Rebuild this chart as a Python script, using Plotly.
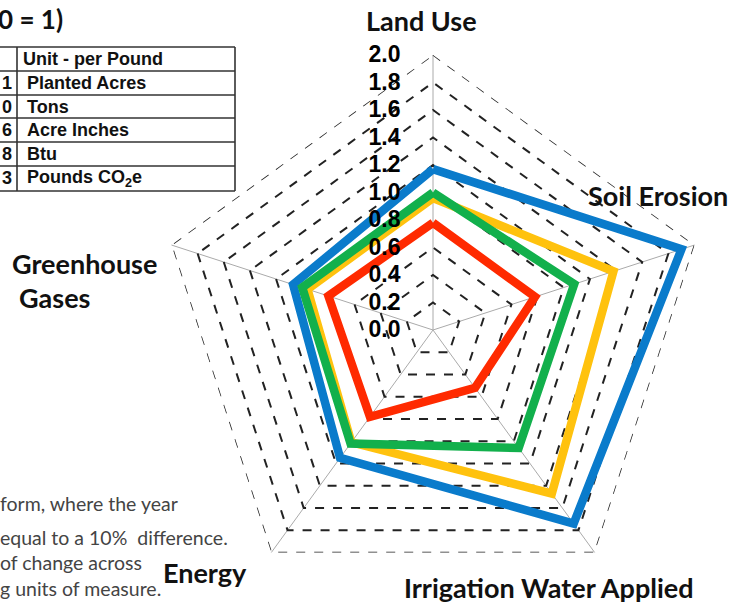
import plotly.graph_objects as go

W, H = 734, 605

categories = ["Land Use", "Soil Erosion", "Irrigation Water Applied", "Energy", "Greenhouse Gases"]
series_names = ["Series A", "Series B", "Series C", "Series D"]
blue_vals = [1.17, 1.90, 1.74, 1.15, 1.07]
yellow_vals = [0.96, 1.38, 1.47, 1.01, 0.96]
green_vals = [1.00, 1.08, 1.06, 1.02, 1.00]
red_vals = [0.78, 0.78, 0.52, 0.78, 0.80]
series_colors = ["#0A7BCB", "#FFC20E", "#12B04C", "#FF2A00"]

radial_ticks = [0.0, 0.2, 0.4, 0.6, 0.8, 1.0, 1.2, 1.4, 1.6, 1.8, 2.0]
RMAX = 2.0

table_left = ["", "1", "0", "6", "8", "3"]
table_right = ["Unit - per Pound", "Planted Acres", "Tons", "Acre Inches", "Btu", "Pounds CO<sub>2</sub>e"]

note_lines = ["form, where the year", "equal to a 10%  difference.", "of change across", "g units of measure."]


def px(x):
    return x / W


def py(y):
    return 1 - y / H


fig = go.Figure()

# outer dashed boundary (range max)
fig.add_trace(go.Scatterpolar(
    r=[RMAX] * (len(categories) + 1), theta=categories + categories[:1],
    mode="lines", line=dict(color="#222", width=1.5, dash="dash"),
    hoverinfo="skip", showlegend=False))

for name, vals, col in zip(series_names, [blue_vals, yellow_vals, green_vals, red_vals], series_colors):
    fig.add_trace(go.Scatterpolar(
        r=vals + vals[:1], theta=categories + categories[:1],
        mode="lines", line=dict(color=col, width=8.5), name=name, showlegend=False))

cx, cy, R = 433, 330, 275
fig.update_layout(
    width=W, height=H,
    margin=dict(l=0, r=0, t=0, b=0),
    paper_bgcolor="white", plot_bgcolor="white",
    polar=dict(
        domain=dict(x=[px(cx - R), px(cx + R)], y=[py(cy + R), py(cy - R)]),
        gridshape="linear",
        bgcolor="rgba(0,0,0,0)",
        radialaxis=dict(
            range=[0, RMAX], tickvals=radial_ticks,
            tickformat=".1f",
            angle=90, tickangle=90, side="counterclockwise",
            showline=False, ticks="outside", ticklen=24, tickcolor="rgba(0,0,0,0)",
            gridcolor="#222", griddash="dash", gridwidth=1.5,
            tickfont=dict(family="Liberation Sans", size=23, color="black", weight="bold"),
            layer="above traces",
        ),
        angularaxis=dict(
            categoryarray=categories, type="category",
            rotation=90, direction="clockwise",
            showticklabels=False, ticks="",
            showline=False,
            gridcolor="#aaaaaa", gridwidth=1.2,
        ),
    ),
    font=dict(family="Lato", color="black"),
)

# axis category labels
lab_font = dict(family="Lato", size=27, color="#111")
labels = [
    ("<b>Land Use</b>", 421, 20, "center"),
    ("<b>Soil Erosion</b>", 658, 195, "center"),
    ("<b>Greenhouse</b>", 10, 263, "left"),
    ("<b>Gases</b>", 17, 297, "left"),
    ("<b>Energy</b>", 205, 572, "center"),
    ("<b>Irrigation Water Applied</b>", 549, 587, "center"),
]
for t, x, y, anc in labels:
    fig.add_annotation(text=t, x=px(x), y=py(y), xref="paper", yref="paper",
                       xanchor=anc, yanchor="middle", showarrow=False, font=lab_font)

# title fragment
fig.add_annotation(text="<b>0 = 1)</b>", x=px(-4), y=py(19), xref="paper", yref="paper",
                   xanchor="left", yanchor="middle", showarrow=False,
                   font=dict(family="Lato", size=26, color="#111"))

# table
row_y = [47, 71, 95, 118, 142, 166, 191]
for y in row_y:
    fig.add_shape(type="line", x0=px(-5), x1=px(235), y0=py(y), y1=py(y),
                  xref="paper", yref="paper", line=dict(color="#333", width=1.6))
fig.add_shape(type="line", x0=px(17), x1=px(17), y0=py(47), y1=py(191),
              xref="paper", yref="paper", line=dict(color="#333", width=1.6))
fig.add_shape(type="line", x0=px(235), x1=px(235), y0=py(47), y1=py(191),
              xref="paper", yref="paper", line=dict(color="#333", width=1.6))
tfont = dict(family="Liberation Sans", size=18, color="#111")
for i, (a, b) in enumerate(zip(table_left, table_right)):
    ymid = (row_y[i] + row_y[i + 1]) / 2
    if a:
        fig.add_annotation(text=f"<b>{a}</b>", x=px(14), y=py(ymid), xref="paper", yref="paper",
                           xanchor="right", yanchor="middle", showarrow=False, font=tfont)
    fig.add_annotation(text=f"<b>{b}</b>", x=px(21 if i == 0 else 25), y=py(ymid), xref="paper", yref="paper",
                       xanchor="left", yanchor="middle", showarrow=False, font=tfont)

# note text
note_y = [503, 537, 562, 588]
for t, y in zip(note_lines, note_y):
    fig.add_annotation(text=t, x=px(-2), y=py(y), xref="paper", yref="paper",
                       xanchor="left", yanchor="middle", showarrow=False,
                       font=dict(family="Lato", size=19.5, color="#444"))

fig.write_html("out.html", config={"displayModeBar": False},
               post_script="document.body.style.margin='0';document.body.style.overflow='hidden';")
